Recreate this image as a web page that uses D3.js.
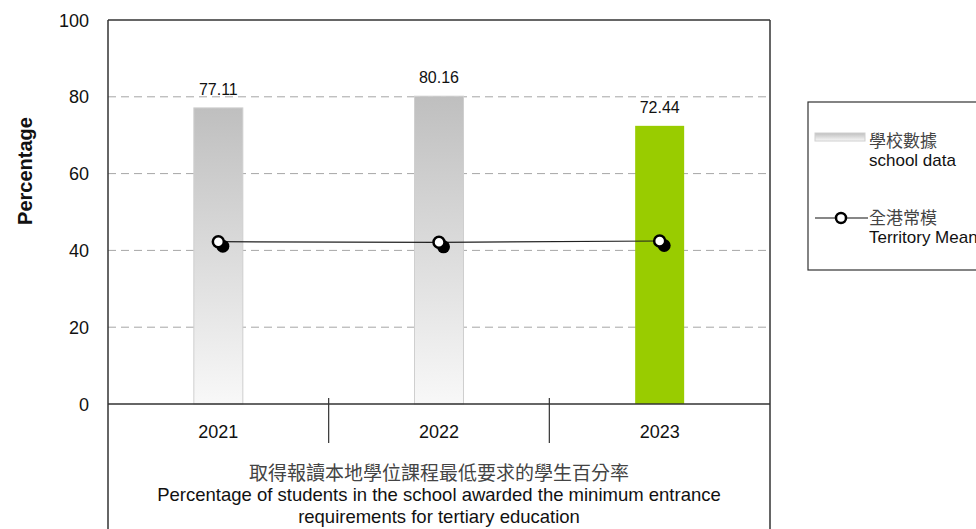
<!DOCTYPE html>
<html>
<head>
<meta charset="utf-8">
<script src="https://cdn.jsdelivr.net/npm/d3@7"></script>
<style>
  html, body { margin: 0; padding: 0; background: #fff; }
  svg { display: block; font-family: "Liberation Sans", Arial, sans-serif; }
</style>
</head>
<body>
<svg id="chart" width="976" height="529"></svg>
<script>
// Academic years and school results
const years = ["2021", "2022", "2023"];
const schoolValues = [77.11, 80.16, 72.44];
const territoryMean = [42.27, 42.11, 42.45];
const yTicks = [0, 20, 40, 60, 80, 100];
const titleLines = [
  "取得報讀本地學位課程最低要求的學生百分率",
  "Percentage of students in the school awarded the minimum entrance",
  "requirements for tertiary education"
];
const legendSchool = ["學校數據", "school data"];
const legendMean = ["全港常模", "Territory Mean"];

const svg = d3.select("#chart");
const plot = { left: 108, right: 770, top: 20, bottom: 404 };

const x = d3.scaleBand().domain(years).range([plot.left, plot.right]).padding(0);
const y = d3.scaleLinear().domain([0, 100]).range([plot.bottom, plot.top]);
const barW = x.bandwidth() * 0.222;

// Gradient for the school bars and legend swatch
const defs = svg.append("defs");
const grad = defs.append("linearGradient").attr("id", "barGrad")
  .attr("x1", 0).attr("y1", 0).attr("x2", 0).attr("y2", 1);
grad.append("stop").attr("offset", "0%").attr("stop-color", "#bfbfbf");
grad.append("stop").attr("offset", "100%").attr("stop-color", "#f8f8f8");

// Dashed gridlines
svg.append("g").selectAll("line")
  .data(yTicks.filter(t => t > 0 && t < 100))
  .join("line")
  .attr("x1", plot.left).attr("x2", plot.right)
  .attr("y1", d => y(d)).attr("y2", d => y(d))
  .attr("stroke", "#a6a6a6").attr("stroke-width", 1)
  .attr("stroke-dasharray", "8,5");

// Bars
svg.append("g").selectAll("rect")
  .data(years)
  .join("rect")
  .attr("x", (d) => x(d) + x.bandwidth() / 2 - barW / 2)
  .attr("y", (d, i) => y(schoolValues[i]))
  .attr("width", barW)
  .attr("height", (d, i) => plot.bottom - y(schoolValues[i]))
  .attr("fill", (d, i) => i === years.length - 1 ? "#99cc00" : "url(#barGrad)")
  .attr("stroke", (d, i) => i === years.length - 1 ? "none" : "#cfcfcf")
  .attr("stroke-width", 1);

// Value labels above bars
svg.append("g").selectAll("text")
  .data(years)
  .join("text")
  .attr("x", d => x(d) + x.bandwidth() / 2)
  .attr("y", (d, i) => y(schoolValues[i]) - 13)
  .attr("text-anchor", "middle")
  .attr("font-size", 16)
  .attr("fill", "#111")
  .text((d, i) => schoolValues[i].toFixed(2));

// Territory mean line with shadowed markers
const cx = d => x(d) + x.bandwidth() / 2;
const meanLine = d3.line().x((d, i) => cx(years[i])).y(d => y(d));
svg.append("path")
  .datum(territoryMean)
  .attr("d", meanLine)
  .attr("fill", "none")
  .attr("stroke", "#222")
  .attr("stroke-width", 1.2);
svg.append("g").selectAll("circle")
  .data(territoryMean)
  .join("circle")
  .attr("cx", (d, i) => cx(years[i]) + 4.5)
  .attr("cy", d => y(d) + 4.5)
  .attr("r", 6.5)
  .attr("fill", "#000");
svg.append("g").selectAll("circle")
  .data(territoryMean)
  .join("circle")
  .attr("cx", (d, i) => cx(years[i]))
  .attr("cy", d => y(d))
  .attr("r", 5.5)
  .attr("fill", "#fff")
  .attr("stroke", "#000")
  .attr("stroke-width", 2.5);

// Frame around the plot and category area
const frame = svg.append("g").attr("stroke", "#333").attr("stroke-width", 1.5).attr("fill", "none");
frame.append("line").attr("x1", plot.left).attr("x2", plot.right).attr("y1", plot.top).attr("y2", plot.top);
frame.append("line").attr("x1", plot.left).attr("x2", plot.left).attr("y1", plot.top).attr("y2", 529);
frame.append("line").attr("x1", plot.right).attr("x2", plot.right).attr("y1", plot.top).attr("y2", 529);
frame.append("line").attr("x1", plot.left).attr("x2", plot.right).attr("y1", plot.bottom).attr("y2", plot.bottom);

// Category dividers
svg.append("g").selectAll("line")
  .data(years.slice(1))
  .join("line")
  .attr("x1", d => x(d)).attr("x2", d => x(d))
  .attr("y1", 398).attr("y2", 443)
  .attr("stroke", "#333").attr("stroke-width", 1.2);

// Category labels
svg.append("g").selectAll("text")
  .data(years)
  .join("text")
  .attr("x", d => x(d) + x.bandwidth() / 2)
  .attr("y", 438)
  .attr("text-anchor", "middle")
  .attr("font-size", 18)
  .attr("fill", "#111")
  .text(d => d);

// Y axis tick labels
svg.append("g").selectAll("text")
  .data(yTicks)
  .join("text")
  .attr("x", 89)
  .attr("y", d => y(d) + 6.5)
  .attr("text-anchor", "end")
  .attr("font-size", 18)
  .attr("fill", "#111")
  .text(d => d);

// Y axis title
svg.append("text")
  .attr("transform", "translate(32,171) rotate(-90)")
  .attr("text-anchor", "middle")
  .attr("font-size", 20)
  .attr("font-weight", "bold")
  .attr("fill", "#111")
  .text("Percentage");

// X axis title
const cxMid = (plot.left + plot.right) / 2;
svg.append("g").selectAll("text")
  .data(titleLines)
  .join("text")
  .attr("x", cxMid)
  .attr("y", (d, i) => i === 0 ? 480 : 479 + i * 22)
  .attr("text-anchor", "middle")
  .attr("font-size", (d, i) => i === 0 ? 19 : 18.5)
  .attr("font-family", (d, i) => i === 0 ? "'Noto Sans CJK TC', sans-serif" : null)
  .attr("fill", (d, i) => i === 0 ? "#444" : "#111")
  .text(d => d);

// Legend
const lg = svg.append("g");
lg.append("rect")
  .attr("x", 808).attr("y", 102).attr("width", 200).attr("height", 168)
  .attr("fill", "#fff").attr("stroke", "#333").attr("stroke-width", 1.2);
lg.append("rect")
  .attr("x", 815).attr("y", 133).attr("width", 50).attr("height", 8)
  .attr("fill", "url(#barGrad)").attr("stroke", "#cfcfcf").attr("stroke-width", 1);
lg.append("text").attr("x", 869).attr("y", 147).attr("font-size", 17)
  .attr("font-family", "'Noto Sans CJK TC', sans-serif").attr("fill", "#444").text(legendSchool[0]);
lg.append("text").attr("x", 869).attr("y", 166).attr("font-size", 17)
  .attr("fill", "#111").text(legendSchool[1]);
lg.append("line").attr("x1", 815).attr("x2", 868).attr("y1", 218).attr("y2", 218)
  .attr("stroke", "#111").attr("stroke-width", 1.2);
lg.append("circle").attr("cx", 841).attr("cy", 218).attr("r", 5)
  .attr("fill", "#fff").attr("stroke", "#000").attr("stroke-width", 2.5);
lg.append("text").attr("x", 869).attr("y", 224).attr("font-size", 17)
  .attr("font-family", "'Noto Sans CJK TC', sans-serif").attr("fill", "#444").text(legendMean[0]);
lg.append("text").attr("x", 869).attr("y", 243).attr("font-size", 17)
  .attr("fill", "#111").text(legendMean[1]);
</script>
</body>
</html>
